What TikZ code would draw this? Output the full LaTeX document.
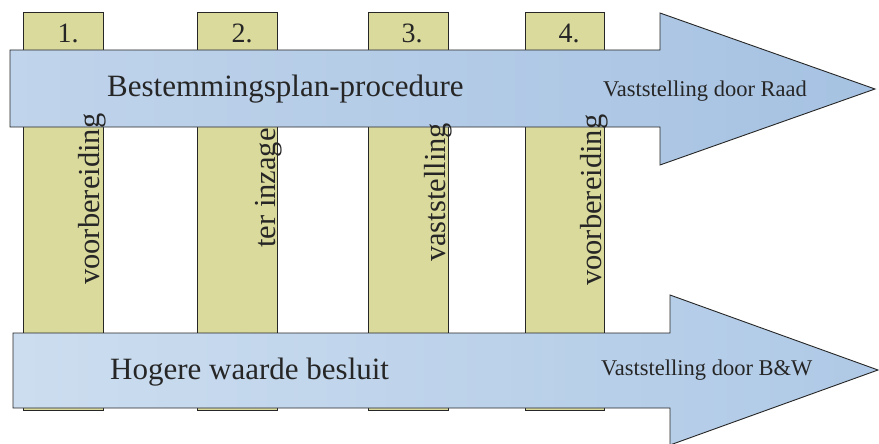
\documentclass[tikz,border=0pt]{standalone}
\usepackage{fontspec}
\setmainfont{Liberation Serif}
\begin{document}
\begin{tikzpicture}[x=1pt,y=-1pt,
  phase/.style={draw=black!85,line width=1pt,fill=phasefill},
  flow/.style={draw=black!85,line width=0.9pt,line join=miter},
  flowtext/.style={inner sep=0pt,anchor=base west,text=black!85,font=\fontsize{31}{31}\selectfont},
  endtext/.style={inner sep=0pt,anchor=base west,text=black!85,font=\fontsize{22.5}{22.5}\selectfont},
  numtext/.style={inner sep=0pt,anchor=base,text=black!85,font=\fontsize{28}{28}\selectfont},
  phasetext/.style={inner sep=0pt,anchor=base west,rotate=90,text=black!85,font=\fontsize{30.5}{30.5}\selectfont}]
\definecolor{phasefill}{HTML}{DADA9C}
\definecolor{flowlight}{HTML}{C0D4EB}
\definecolor{flowdark}{HTML}{A6C2E2}
\definecolor{flowpale}{HTML}{CCDDEF}
\definecolor{flowmid}{HTML}{AFC9E6}
\useasboundingbox (0,0) rectangle (879,444);
\fill[white] (0,0) rectangle (879,444);

% the four phase columns
\draw[phase] (23,13) rectangle (103,410);
\draw[phase] (197,13) rectangle (277,410);
\draw[phase] (368,13) rectangle (448,410);
\draw[phase] (525,13) rectangle (604,410);

% phase numbers
\node[numtext] (n1) at (68,43) {1.};
\node[numtext] (n2) at (242,43) {2.};
\node[numtext] (n3) at (412,43) {3.};
\node[numtext] (n4) at (569,43) {4.};

% upper process arrow
\draw[flow,left color=flowlight,right color=flowdark]
  (10,50) -- (660,50) -- (660,13) -- (875,89) -- (660,165) -- (660,127) -- (10,127) -- cycle;
% lower process arrow
\draw[flow,left color=flowpale,right color=flowmid]
  (13,333) -- (670,333) -- (670,295) -- (878,370) -- (670,445) -- (670,408) -- (13,408) -- cycle;

% arrow labels
\node[flowtext] (bp) at (107,97) {Bestemmingsplan-procedure};
\node[endtext] (raad) at (603,97) {Vaststelling door Raad};
\node[flowtext] (hw) at (110,379) {Hogere waarde besluit};
\node[endtext] (bw) at (601,375) {Vaststelling door B\&W};

% phase names
\node[phasetext] (p1) at (99,285) {voorbereiding};
\node[phasetext] (p2) at (275,248) {ter inzage};
\node[phasetext] (p3) at (445,262) {vaststelling};
\node[phasetext] (p4) at (601,286) {voorbereiding};
\end{tikzpicture}
\end{document}
